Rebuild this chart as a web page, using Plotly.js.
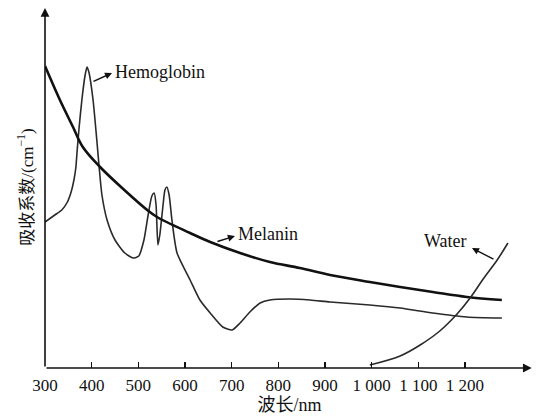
<!DOCTYPE html>
<html>
<head>
<meta charset="utf-8">
<script src="https://cdn.plot.ly/plotly-3.0.1.min.js"></script>
<style>html,body{margin:0;padding:0;background:#fff;}#chart{width:538px;height:418px;}</style>
</head>
<body>
<div id="chart"></div>
<script>
// Wavelength (nm) and relative absorption values
var hbWavelength = [300,321,336,348,356,362,366,369,373,379,386,390,394,403,411,416,422,433,450,471,489,501,512,521,529,534,538,542,546,553,557,561,566,572,583,611,632,654,681,701,718,739,761,782,825,868,911,996,1061,1131,1204,1279];
var hbAbsorption = [146,153,158,166,176,188,200,218,240,268,293,301,296,268,228,201,173,148,128,115,110,112,128,153,172,175,163,123,133,163,178,181,173,148,115,88,68,55,41,38,45,56,65,68,69,68,66,63,60,55,51,50];

var melWavelength = [300,332,360,381,418,470,519,540,611,654,718,782,846,911,996,1061,1131,1204,1279];
var melAbsorption = [302,268,241,221,201,178,158,151,135,126,115,106,100,93,86,81,76,71,68];

var waterWavelength = [996,1061,1104,1146,1183,1211,1239,1269,1292];
var waterAbsorption = [3,12,23,37,54,70,89,108,125];

var tickValues = [300,400,500,600,700,800,900,1000,1100,1200];
var tickLabels = ['300','400','500','600','700','800','900','1 000','1 100','1 200'];

var serif = 'Liberation Serif, Times New Roman, serif';
var cjk = 'Liberation Serif, Noto Sans CJK SC, serif';

var traces = [
  {x: hbWavelength, y: hbAbsorption, mode: 'lines', line: {color: '#2a2a2a', width: 1.6, shape: 'spline', smoothing: 0.6}, hoverinfo: 'skip', name: 'Hemoglobin'},
  {x: melWavelength, y: melAbsorption, mode: 'lines', line: {color: '#111', width: 2.6, shape: 'spline', smoothing: 1}, hoverinfo: 'skip', name: 'Melanin'},
  {x: waterWavelength, y: waterAbsorption, mode: 'lines', line: {color: '#2a2a2a', width: 1.6, shape: 'spline', smoothing: 1}, hoverinfo: 'skip', name: 'Water'}
];

var layout = {
  width: 538, height: 418,
  margin: {l: 45, r: 4, t: 6, b: 50},
  paper_bgcolor: '#fff', plot_bgcolor: '#fff',
  showlegend: false,
  xaxis: {
    range: [300, 1347.9], showgrid: false, zeroline: false, showline: false,
    tickmode: 'array', tickvals: tickValues, ticktext: tickLabels,
    ticks: 'inside', ticklen: 6, tickwidth: 1.5, tickcolor: '#111',
    ticklabelstandoff: 5,
    tickfont: {family: serif, size: 17, color: '#111'},
    title: {text: '波长/nm', font: {family: cjk, size: 18, color: '#111'}, standoff: 2}
  },
  yaxis: {
    range: [0, 362], showgrid: false, zeroline: false, showline: false,
    showticklabels: false, ticks: '',
    title: {text: '吸收系数/(cm<sup>−1</sup>)', font: {family: cjk, size: 17, color: '#111'}, standoff: 6}
  },
  annotations: [
    // axes with arrowheads
    {x: 1343, y: 0, ax: 300, ay: 0, axref: 'x', ayref: 'y', xref: 'x', yref: 'y', text: '', showarrow: true, arrowhead: 2, arrowsize: 1.1, arrowwidth: 1.6, arrowcolor: '#111'},
    {x: 300, y: 360, ax: 300, ay: 0, axref: 'x', ayref: 'y', xref: 'x', yref: 'y', text: '', showarrow: true, arrowhead: 2, arrowsize: 1.1, arrowwidth: 1.6, arrowcolor: '#111'},
    // label arrows
    {x: 443.6, y: 295, ax: -20, ay: 9, xref: 'x', yref: 'y', text: '', showarrow: true, arrowhead: 2, arrowsize: 1, arrowwidth: 1.4, arrowcolor: '#111'},
    {x: 707, y: 132, ax: -19, ay: 6, xref: 'x', yref: 'y', text: '', showarrow: true, arrowhead: 2, arrowsize: 1, arrowwidth: 1.4, arrowcolor: '#111'},
    {x: 1215, y: 120, ax: 23, ay: 12, xref: 'x', yref: 'y', text: '', showarrow: true, arrowhead: 2, arrowsize: 1, arrowwidth: 1.4, arrowcolor: '#111'},
    // labels
    {x: 445, y: 296, xref: 'x', yref: 'y', text: 'Hemoglobin', showarrow: false, xanchor: 'left', yanchor: 'middle', font: {family: serif, size: 18, color: '#111'}},
    {x: 709, y: 134, xref: 'x', yref: 'y', text: 'Melanin', showarrow: false, xanchor: 'left', yanchor: 'middle', font: {family: serif, size: 18, color: '#111'}},
    {x: 1209, y: 127, xref: 'x', yref: 'y', text: 'Water', showarrow: false, xanchor: 'right', yanchor: 'middle', font: {family: serif, size: 18, color: '#111'}}
  ]
};

Plotly.newPlot('chart', traces, layout, {displayModeBar: false, staticPlot: true});
</script>
</body>
</html>
